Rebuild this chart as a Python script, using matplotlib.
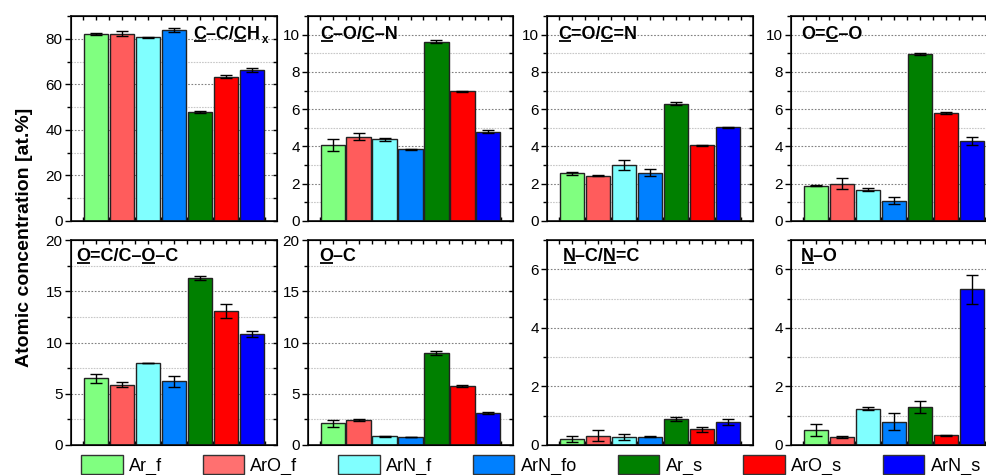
import matplotlib
matplotlib.use("Agg")
import matplotlib.pyplot as plt
from matplotlib.patches import Patch
from matplotlib.ticker import MultipleLocator
from matplotlib.font_manager import FontProperties
import numpy as np

plt.rcParams['font.family'] = ['Liberation Sans', 'DejaVu Sans']

# ---------------- data ----------------
samples = ["Ar_f", "ArO_f", "ArN_f", "ArN_fo", "Ar_s", "ArO_s", "ArN_s"]
colors = ["#80FF80", "#FF5C5C", "#80FFFF", "#0080FF", "#008000", "#FF0000", "#0000FF"]
legend_colors = ["#80FF80", "#FF7070", "#80FFFF", "#0080FF", "#008000", "#FF0000", "#0000FF"]

cc_chx = [82.2, 82.3, 80.6, 83.9, 47.8, 63.4, 66.1]
cc_chx_err = [0.4, 0.9, 0.4, 1.0, 0.3, 0.7, 0.9]

co_cn = [4.09, 4.52, 4.39, 3.86, 9.63, 6.95, 4.80]
co_cn_err = [0.31, 0.2, 0.08, 0.03, 0.06, 0.05, 0.08]

cdo_cdn = [2.55, 2.43, 3.00, 2.60, 6.29, 4.07, 5.02]
cdo_cdn_err = [0.07, 0.03, 0.29, 0.2, 0.08, 0.03, 0.02]

ocoo = [1.89, 2.00, 1.68, 1.09, 8.96, 5.80, 4.30]
ocoo_err = [0.02, 0.3, 0.08, 0.2, 0.05, 0.05, 0.2]

oc_coc = [6.5, 5.9, 8.0, 6.2, 16.27, 13.05, 10.8]
oc_coc_err = [0.42, 0.2, 0.02, 0.5, 0.2, 0.7, 0.3]

o_c = [2.1, 2.43, 0.84, 0.78, 8.96, 5.80, 3.15]
o_c_err = [0.3, 0.1, 0.05, 0.03, 0.2, 0.1, 0.08]

nc_ndc = [0.21, 0.32, 0.28, 0.29, 0.88, 0.54, 0.80]
nc_ndc_err = [0.1, 0.2, 0.1, 0.01, 0.07, 0.09, 0.1]

n_o = [0.51, 0.28, 1.24, 0.80, 1.30, 0.33, 5.31]
n_o_err = [0.2, 0.04, 0.06, 0.3, 0.2, 0.01, 0.5]

# title segments: (text, underlined)
titles = [
    [("C", True), ("–C/", False), ("C", True), ("H", False)],
    [("C", True), ("–O/", False), ("C", True), ("–N", False)],
    [("C", True), ("=O/", False), ("C", True), ("=N", False)],
    [("O=", False), ("C", True), ("–O", False)],
    [("O", True), ("=C/C–", False), ("O", True), ("–C", False)],
    [("O", True), ("–C", False)],
    [("N", True), ("–C/", False), ("N", True), ("=C", False)],
    [("N", True), ("–O", False)],
]
subscripts = ["x", "", "", "", "", "", "", ""]

panels = [
    (cc_chx, cc_chx_err, 90, 20, 10),
    (co_cn, co_cn_err, 11, 2, 1),
    (cdo_cdn, cdo_cdn_err, 11, 2, 1),
    (ocoo, ocoo_err, 11, 2, 1),
    (oc_coc, oc_coc_err, 20, 5, 2.5),
    (o_c, o_c_err, 20, 5, 2.5),
    (nc_ndc, nc_ndc_err, 7, 2, 1),
    (n_o, n_o_err, 7, 2, 1),
]

# ---------------- layout (pixels) ----------------
W, H = 986, 475
fig = plt.figure(figsize=(W / 100, H / 100), dpi=100)
cols = [(71, 277), (308, 513), (547, 753), (791, 997)]
rows = [(16, 221), (240, 445)]
title_dx = [122, 12, 11, 10, 5, 11, 16, 10]
title_dy = [23, 23, 23, 23, 21, 21, 21, 21]

renderer = fig.canvas.get_renderer()
tfont = FontProperties(family='Liberation Sans', weight='bold', size=13)
sfont = FontProperties(family='Liberation Sans', weight='bold', size=8.5)

def text_w(s, fp):
    w, h, d = renderer.get_text_width_height_descent(s, fp, ismath=False)
    return w

x = np.arange(len(samples))
for i, (vals, errs, ymax, major, minor) in enumerate(panels):
    r, c = divmod(i, 4)
    l, rr = cols[c]
    t, b = rows[r]
    ax = fig.add_axes([l / W, 1 - b / H, (rr - l) / W, (b - t) / H])
    ax.set_axisbelow(True)
    ax.bar(x, vals, width=0.95, color=colors, edgecolor="#222222", linewidth=1.0, zorder=2)
    ax.errorbar(x, vals, yerr=errs, fmt='none', ecolor='black', elinewidth=1.0,
                capsize=4, capthick=1.0, zorder=3)
    ax.set_xlim(-0.96, 6.96)
    ax.set_ylim(0, ymax)
    ax.yaxis.set_major_locator(MultipleLocator(major))
    ax.yaxis.set_minor_locator(MultipleLocator(minor))
    ax.set_xticks(x)
    ax.set_xticks(np.arange(-0.5, 7.0, 1.0), minor=True)
    ax.set_xticklabels([])
    ax.grid(True, which='major', axis='y', color='#808080', linestyle=(0, (1.5, 1.5)), linewidth=0.8)
    ax.grid(True, which='minor', axis='y', color='#c8c8c8', linestyle=(0, (1.5, 1.0)), linewidth=0.8)
    ax.tick_params(axis='y', which='major', direction='out', length=4, width=1, labelsize=11,
                   pad=2, right=False)
    ax.tick_params(axis='y', which='minor', direction='out', length=3, width=1, right=False)
    ax.tick_params(axis='x', which='both', direction='in', length=3, width=1, top=True)
    for sp in ax.spines.values():
        sp.set_linewidth(1.2)
        sp.set_color('#111111')
    ax2 = ax.twinx()
    ax2.set_ylim(0, ymax)
    ax2.yaxis.set_major_locator(MultipleLocator(major))
    ax2.yaxis.set_minor_locator(MultipleLocator(minor))
    ax2.tick_params(axis='y', which='both', direction='in', length=3, width=1, labelright=False)

    # title with underlines
    segs = titles[i]
    full = "".join(s for s, _ in segs)
    bbox = ax.get_window_extent(renderer)
    x0 = title_dx[i]
    ybase = title_dy[i]
    ax.text(x0 / bbox.width, 1 - ybase / bbox.height, full, transform=ax.transAxes,
            fontproperties=tfont, va='baseline', ha='left', zorder=5)
    prefix = ""
    for s, u in segs:
        if u:
            a = text_w(prefix, tfont) if prefix else 0.0
            bw = text_w(prefix + s, tfont)
            uy = 1 - (ybase + 2.0) / bbox.height
            ax.plot([(x0 + a + 0.5) / bbox.width, (x0 + bw - 0.5) / bbox.width], [uy, uy],
                    transform=ax.transAxes, color='black', lw=1.3, clip_on=False,
                    solid_capstyle='butt', zorder=5)
        prefix += s
    if subscripts[i]:
        fw = text_w(full, tfont)
        ax.text((x0 + fw + 2) / bbox.width, 1 - (ybase + 4) / bbox.height, subscripts[i],
                transform=ax.transAxes, fontproperties=sfont, va='baseline', ha='left',
                zorder=5)

fig.text(25 / W, 1 - 237 / H, "Atomic concentration [at.%]", rotation=90,
         fontsize=14, fontweight='bold', ha='center', va='center')

handles = [Patch(facecolor=c, edgecolor='#333333', linewidth=1.0) for c in legend_colors]
fig.legend(handles, samples, ncol=7, loc='upper left',
           bbox_to_anchor=(81 / W, 1 - 455 / H), frameon=False, fontsize=13,
           handlelength=2.3, handleheight=1.2, handletextpad=0.35, columnspacing=2.25,
           borderpad=0, borderaxespad=0)

fig.savefig("out.png", dpi=100)
